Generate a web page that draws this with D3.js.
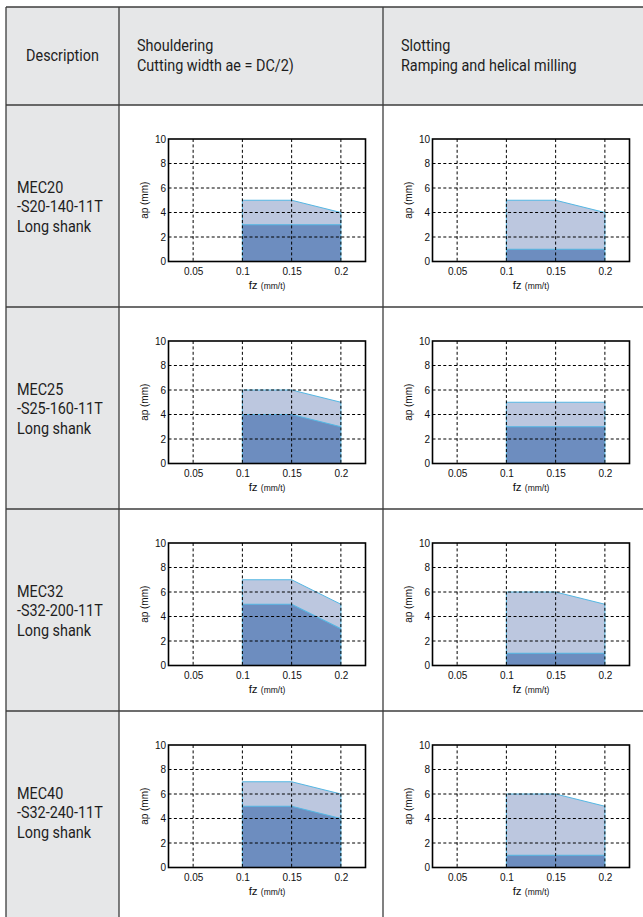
<!DOCTYPE html>
<html>
<head>
<meta charset="utf-8">
<script src="https://cdn.jsdelivr.net/npm/d3@7"></script>
<style>
  html, body { margin: 0; padding: 0; background: #ffffff; }
  svg { display: block; }
</style>
</head>
<body>
<div id="chart"></div>
<script>
// ---------- data ----------
const headerTitles = ["Description", "Shouldering", "Slotting"];
const headerSubtitles = ["", "Cutting width ae = DC/2)", "Ramping and helical milling"];
const toolCodes = ["MEC20", "MEC25", "MEC32", "MEC40"];
const toolShanks = ["-S20-140-11T", "-S25-160-11T", "-S32-200-11T", "-S32-240-11T"];
const toolTypes = ["Long shank", "Long shank", "Long shank", "Long shank"];

const fzValues = [0.1, 0.15, 0.2];
const xTicks = [0.05, 0.1, 0.15, 0.2];
const xTickLabels = ["0.05", "0.1", "0.15", "0.2"];
const yTicks = [0, 2, 4, 6, 8, 10];
const yGrid = [2, 4, 6, 8];

const shoulderMax = [[5, 5, 4], [6, 6, 5], [7, 7, 5], [7, 7, 6]];
const shoulderMin = [[3, 3, 3], [4, 4, 3], [5, 5, 3], [5, 5, 4]];
const slotMax = [[5, 5, 4], [5, 5, 5], [6, 6, 5], [6, 6, 5]];
const slotMin = [[1, 1, 1], [3, 3, 3], [1, 1, 1], [1, 1, 1]];

// ---------- layout ----------
const W = 643, H = 917;
const colX = [6, 119, 383, 700];
const tableTop = 7, headerBottom = 105, rowH = 202;
const FONT = "Roboto, 'Liberation Sans', sans-serif";
const SMALLFONT = "'Liberation Sans', Arial, sans-serif";
const SQUEEZE = 0.9;
const GRAY = "#e6e7e8";
const LINE = "#3c3c3c";

const svg = d3.select("#chart").append("svg").attr("width", W).attr("height", H);

// backgrounds
svg.append("rect").attr("x", colX[0]).attr("y", tableTop)
  .attr("width", colX[3] - colX[0]).attr("height", headerBottom - tableTop).attr("fill", GRAY);
svg.append("rect").attr("x", colX[0]).attr("y", headerBottom)
  .attr("width", colX[1] - colX[0]).attr("height", H - headerBottom + 10).attr("fill", GRAY);

// table lines
const grid = svg.append("g").attr("stroke", LINE).attr("stroke-width", 1.3).attr("fill", "none");
[colX[0], colX[1], colX[2]].forEach(x => grid.append("line").attr("x1", x).attr("x2", x).attr("y1", tableTop).attr("y2", H + 5));
const rowLines = [tableTop, headerBottom].concat(toolCodes.map((d, i) => headerBottom + rowH * (i + 1)).slice(0, 3));
rowLines.forEach(y => grid.append("line").attr("x1", colX[0]).attr("x2", W + 5).attr("y1", y).attr("y2", y));

// condensed text helper
function ctext(x, y, s, anchor) {
  return svg.append("text")
    .attr("transform", `translate(${x},${y}) scale(${SQUEEZE},1)`)
    .attr("text-anchor", anchor || "start")
    .attr("font-family", FONT).attr("font-size", 16).attr("fill", "#1e1e1e")
    .text(s);
}

// header text
ctext((colX[0] + colX[1]) / 2, 61, headerTitles[0], "middle");
[1, 2].forEach(c => {
  ctext(colX[c] + 18, 51, headerTitles[c]);
  ctext(colX[c] + 18, 71, headerSubtitles[c]);
});

// description column text
toolCodes.forEach((code, i) => {
  const cy = headerBottom + rowH * i + rowH / 2;
  [code, toolShanks[i], toolTypes[i]].forEach((s, k) => {
    ctext(17, cy + 6 + (k - 1) * 19.5, s);
  });
});

// ---------- charts ----------
const plotW = 197, plotH = 122.5, plotTopOff = 34, plotLeftOff = 49.5;
const DARK = "#6d8dbf", LIGHT = "#bcc7df", EDGE = "#55b7e3";

function drawChart(x0, y0, maxVals, minVals) {
  const g = svg.append("g").attr("transform", `translate(${x0},${y0})`);
  const x = d3.scaleLinear().domain([0.025, 0.225]).range([0, plotW]);
  const y = d3.scaleLinear().domain([0, 10]).range([plotH, 0]);
  const pts = fzValues.map((f, k) => ({ f, hi: maxVals[k], lo: minVals[k] }));

  const areaHi = d3.area().x(d => x(d.f)).y0(y(0)).y1(d => y(d.hi));
  const areaLo = d3.area().x(d => x(d.f)).y0(y(0)).y1(d => y(d.lo));
  g.append("path").datum(pts).attr("d", areaHi).attr("fill", LIGHT);
  g.append("path").datum(pts).attr("d", areaLo).attr("fill", DARK);
  const lineHi = d3.line().x(d => x(d.f)).y(d => y(d.hi));
  const lineLo = d3.line().x(d => x(d.f)).y(d => y(d.lo));
  g.append("path").datum(pts).attr("d", lineHi).attr("fill", "none").attr("stroke", EDGE).attr("stroke-width", 1);
  g.append("path").datum(pts).attr("d", lineLo).attr("fill", "none").attr("stroke", EDGE).attr("stroke-width", 1.2);
  [pts[0], pts[pts.length - 1]].forEach(p => {
    g.append("line").attr("x1", x(p.f)).attr("x2", x(p.f)).attr("y1", y(0)).attr("y2", y(p.hi))
      .attr("stroke", EDGE).attr("stroke-width", 1);
  });

  // dashed grid
  const gg = g.append("g").attr("stroke", "#000").attr("stroke-width", 1).attr("stroke-dasharray", "3,2.4");
  xTicks.forEach(v => gg.append("line").attr("x1", x(v)).attr("x2", x(v)).attr("y1", 0).attr("y2", plotH));
  yGrid.forEach(v => gg.append("line").attr("x1", 0).attr("x2", plotW).attr("y1", y(v)).attr("y2", y(v)));

  // frame
  g.append("rect").attr("x", 0).attr("y", 0).attr("width", plotW).attr("height", plotH)
    .attr("fill", "none").attr("stroke", "#000").attr("stroke-width", 1.6);

  // axes (labels only)
  const xAxis = d3.axisBottom(x).tickValues(xTicks).tickSize(0).tickPadding(6)
    .tickFormat((d, k) => xTickLabels[k]);
  const xa = g.append("g").attr("transform", `translate(0,${plotH})`).call(xAxis);
  xa.select(".domain").remove();
  xa.selectAll("text").attr("font-family", SMALLFONT).attr("font-size", 10).attr("fill", "#111");

  const yAxis = d3.axisLeft(y).tickValues(yTicks).tickSize(0).tickPadding(2.5);
  const ya = g.append("g").call(yAxis);
  ya.select(".domain").remove();
  ya.selectAll("text").attr("font-family", SMALLFONT).attr("font-size", 10).attr("fill", "#111");

  // axis titles
  g.append("text").attr("transform", `translate(-21,${plotH / 2}) rotate(-90)`)
    .attr("text-anchor", "middle").attr("font-family", SMALLFONT)
    .attr("font-size", 10).attr("fill", "#111").text("ap (mm)");
  const ft = g.append("text").attr("x", plotW / 2).attr("y", plotH + 27).attr("text-anchor", "middle")
    .attr("font-family", SMALLFONT).attr("fill", "#111");
  ft.append("tspan").attr("font-size", 11.5).text("fz ");
  ft.append("tspan").attr("font-size", 8.5).text("(mm/t)");
}

toolCodes.forEach((code, i) => {
  const rowTop = headerBottom + rowH * i;
  drawChart(colX[1] + plotLeftOff, rowTop + plotTopOff, shoulderMax[i], shoulderMin[i]);
  drawChart(colX[2] + plotLeftOff, rowTop + plotTopOff, slotMax[i], slotMin[i]);
});
</script>
</body>
</html>
